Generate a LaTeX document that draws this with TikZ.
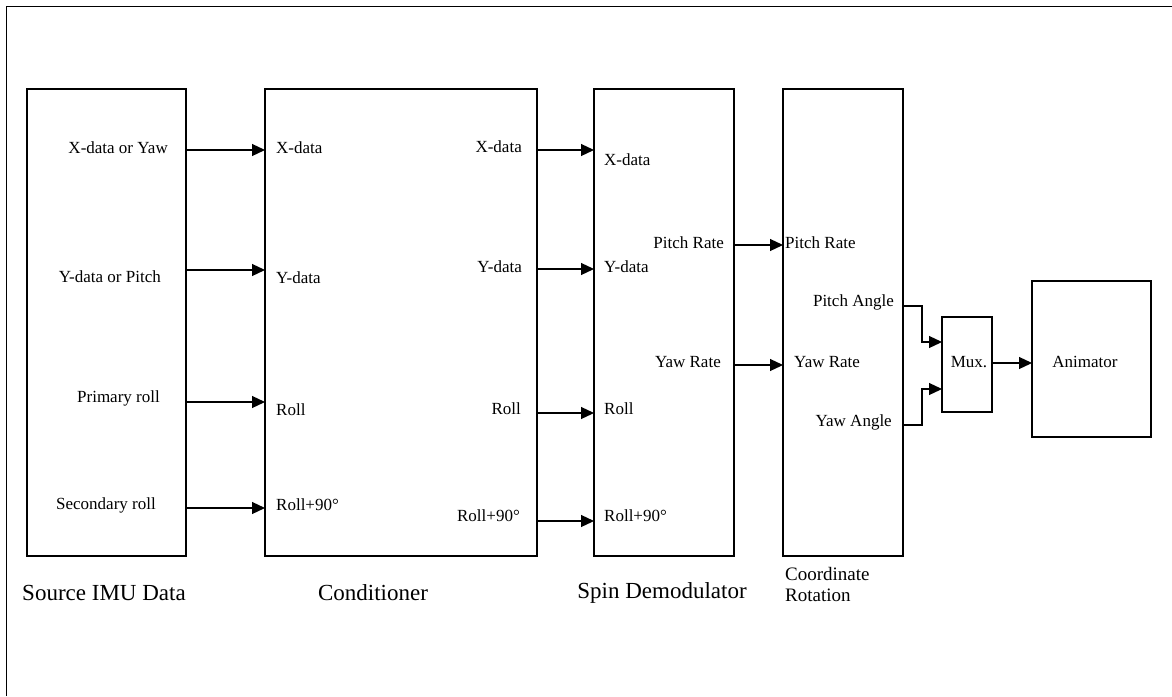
\documentclass[tikz,border=0pt]{standalone}
\usepackage{fontspec}
\setmainfont{Liberation Serif}
\usetikzlibrary{arrows.meta,positioning,calc}

\begin{document}
\begin{tikzpicture}[x=1pt, y=-1pt, >={Triangle[length=13pt,width=12pt]},
  font=\fontsize{17}{20}\selectfont,
  blk/.style={draw, line width=1.3pt, anchor=north west, outer sep=0pt, inner sep=0pt},
  lbl/.style={inner sep=0pt},
  ttl/.style={inner sep=0pt, font=\fontsize{23}{27}\selectfont},
  sig/.style={->, line width=1.2pt}]
  \useasboundingbox (0,0) rectangle (1172,696);
  % frame
  \draw[line width=1pt] (6,696) -- (6,6) -- (1172,6);
  % blocks
  \node[blk, minimum width=159pt, minimum height=467pt] (src) at (27,89) {};
  \node[blk, minimum width=272pt, minimum height=467pt] (cnd) at (265,89) {};
  \node[blk, minimum width=140pt, minimum height=467pt] (spn) at (594,89) {};
  \node[blk, minimum width=120pt, minimum height=467pt] (crd) at (783,89) {};
  \node[blk, minimum width=50pt, minimum height=95pt] (mux) at (942,317) {};
  \node[blk, minimum width=119pt, minimum height=156pt] (ani) at (1032,281) {};
  % block titles
  \node[ttl] (tsrc) at (104,593) {Source IMU Data};
  \node[ttl] (tcnd) at (373,593) {Conditioner};
  \node[ttl] (tspn) at (662,593) {Spin Demodulator};
  \node[lbl, anchor=north west, align=left, font=\fontsize{19}{21}\selectfont] (tcrd) at (785,567) {Coordinate\\Rotation};
  % source labels
  \node[lbl, anchor=east] (s1) at (168,148) {X-data or Yaw};
  \node[lbl, anchor=east] (s2) at (161,277) {Y-data or Pitch};
  \node[lbl, anchor=east] (s3) at (160,398) {Primary roll};
  \node[lbl, anchor=east] (s4) at (156,505) {Secondary roll};
  % conditioner labels
  \node[lbl, anchor=west] (ci1) at (276,148) {X-data};
  \node[lbl, anchor=west] (ci2) at (276,278) {Y-data};
  \node[lbl, anchor=west] (ci3) at (276,410) {Roll};
  \node[lbl, anchor=west] (ci4) at (276,505) {Roll+90°};
  \node[lbl, anchor=east] (co1) at (522,147) {X-data};
  \node[lbl, anchor=east] (co2) at (522,267) {Y-data};
  \node[lbl, anchor=east] (co3) at (521,409) {Roll};
  \node[lbl, anchor=east] (co4) at (520,516) {Roll+90°};
  % demodulator labels
  \node[lbl, anchor=west] (di1) at (604,160) {X-data};
  \node[lbl, anchor=west] (di2) at (604,267) {Y-data};
  \node[lbl, anchor=west] (di3) at (604,409) {Roll};
  \node[lbl, anchor=west] (di4) at (604,516) {Roll+90°};
  \node[lbl, anchor=east] (do1) at (724,243) {Pitch Rate};
  \node[lbl, anchor=east] (do2) at (721,362) {Yaw Rate};
  % rotation labels
  \node[lbl, anchor=west] (ri1) at (785,243) {Pitch Rate};
  \node[lbl, anchor=west] (ri2) at (794,362) {Yaw Rate};
  \node[lbl, anchor=east] (ro1) at (894,302) {Pitch Angle};
  \node[lbl, anchor=east] (ro2) at (892,422) {Yaw Angle};
  \node[lbl] (tmux) at (969,362) {Mux.};
  \node[lbl] (tani) at (1085,362) {Animator};
  % signals
  \foreach \y in {150,270,402,508} \draw[sig] (src.east |- 0,\y) -- (cnd.west |- 0,\y);
  \foreach \y in {150,269,413,521} \draw[sig] (cnd.east |- 0,\y) -- (spn.west |- 0,\y);
  \foreach \y in {245,365} \draw[sig] (spn.east |- 0,\y) -- (crd.west |- 0,\y);
  \draw[sig] (crd.east |- 0,306) -- ++(19,0) |- (mux.west |- 0,342);
  \draw[sig] (crd.east |- 0,425) -- ++(19,0) |- (mux.west |- 0,389);
  \draw[sig] (mux.east |- 0,363) -- (ani.west |- 0,363);
\end{tikzpicture}
\end{document}
